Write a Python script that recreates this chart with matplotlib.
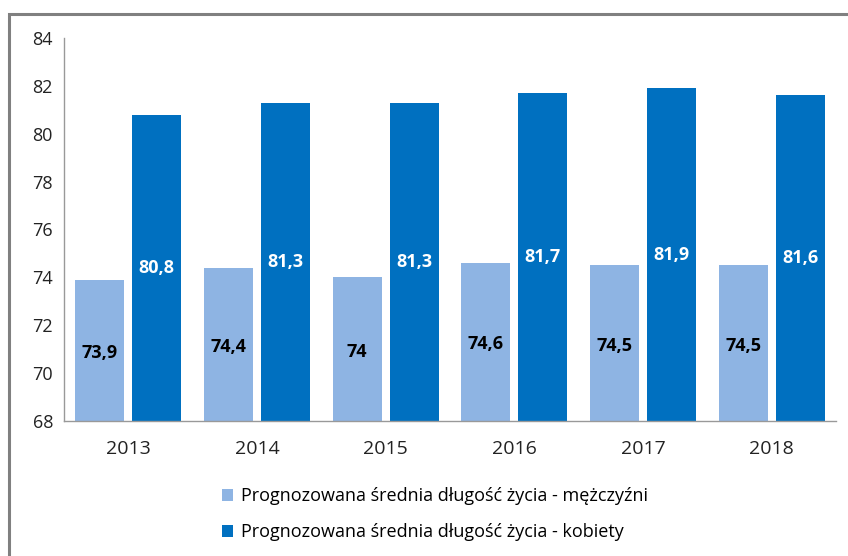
import matplotlib
matplotlib.use("Agg")
import matplotlib.pyplot as plt
from matplotlib.patches import Rectangle
import numpy as np

years = ["2013", "2014", "2015", "2016", "2017", "2018"]
men = [73.9, 74.4, 74.0, 74.6, 74.5, 74.5]
women = [80.8, 81.3, 81.3, 81.7, 81.9, 81.6]
men_labels = ["73,9", "74,4", "74", "74,6", "74,5", "74,5"]
women_labels = ["80,8", "81,3", "81,3", "81,7", "81,9", "81,6"]
yticks = [68, 70, 72, 74, 76, 78, 80, 82, 84]
legend_labels = ["Prognozowana średnia długość życia - mężczyźni",
                 "Prognozowana średnia długość życia - kobiety"]

plt.rcParams['font.family'] = ['Open Sans', 'DejaVu Sans']

fig = plt.figure(figsize=(8.48, 5.56), dpi=100)
fig.patches.append(Rectangle((9/848, -0.1), 1.2, 1 - 14/556 + 0.1, transform=fig.transFigure,
                             fill=False, edgecolor='#808080', linewidth=2.2, zorder=0))
ax = fig.add_axes([64/848, 1 - 421/556, (836 - 64)/848, (421 - 38)/556])

x = np.arange(len(years))
w = 0.38
off = 0.2215
c_light = '#8EB4E3'
c_dark = '#0070C0'
b1 = ax.bar(x - off, [m - 68 for m in men], w, bottom=68, color=c_light, label=legend_labels[0])
b2 = ax.bar(x + off, [v - 68 for v in women], w, bottom=68, color=c_dark, label=legend_labels[1])

for xi, v, lab in zip(x, men, men_labels):
    ax.text(xi - off, (68 + v) / 2 - 0.1, lab, ha='center', va='center', fontsize=13,
            fontweight='bold', color='black')
for xi, v, lab in zip(x, women, women_labels):
    ax.text(xi + off, (68 + v) / 2, lab, ha='center', va='center', fontsize=13,
            fontweight='bold', color='white')

ax.set_xlim(-0.5, len(years) - 0.5)
ax.set_ylim(68, 84)
ax.set_yticks(yticks)
ax.set_yticklabels([str(t) for t in yticks], fontsize=13, color='#222222')
ax.set_xticks(x)
ax.set_xticklabels(years, fontsize=14, color='#222222')
ax.tick_params(axis='both', length=0)
ax.tick_params(axis='y', pad=8)
ax.tick_params(axis='x', pad=14)
for s in ['top', 'right']:
    ax.spines[s].set_visible(False)
ax.spines['left'].set_color('#999999')
ax.spines['bottom'].set_color('#999999')
ax.spines['left'].set_linewidth(1)
ax.spines['bottom'].set_linewidth(1)

fig.legend(handles=[b1, b2], labels=legend_labels, loc='upper left',
           bbox_to_anchor=(206/848, 1 - 471/556), frameon=False, fontsize=13,
           handlelength=0.6, handleheight=0.6, handletextpad=0.45, labelspacing=1.0)

fig.savefig("out.png", dpi=100)
